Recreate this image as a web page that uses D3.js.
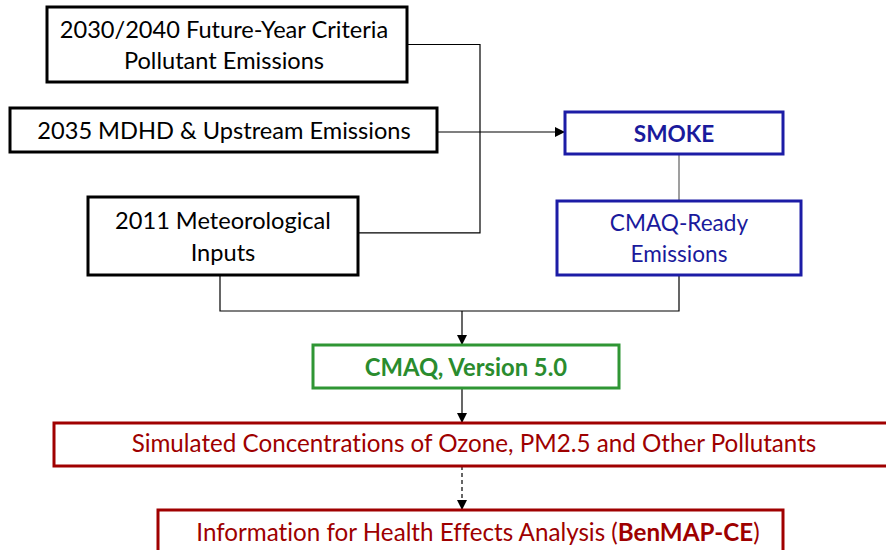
<!DOCTYPE html>
<html>
<head>
<meta charset="utf-8">
<script src="https://cdn.jsdelivr.net/npm/d3@7"></script>
<style>
  body { margin: 0; background: #fff; }
  svg { display: block; font-family: Lato, "Open Sans", sans-serif; font-variant-ligatures: none; }
</style>
</head>
<body>
<div id="chart"></div>
<script>
// node ids and their text (one entry per line)
var nodeIds = ["future", "mdhd", "met", "smoke", "ready", "cmaq", "sim", "health"];
var nodeLines = [
  ["2030/2040 Future-Year Criteria", "Pollutant Emissions"],
  ["2035 MDHD & Upstream Emissions"],
  ["2011 Meteorological", "Inputs"],
  ["SMOKE"],
  ["CMAQ-Ready", "Emissions"],
  ["CMAQ, Version 5.0"],
  ["Simulated Concentrations of Ozone, PM2.5 and Other Pollutants"],
  ["Information for Health Effects Analysis (|BenMAP-CE|)"]   // |..| = bold part
];
var nodeGroups = ["input", "input", "input", "smoke", "smoke", "model", "output", "output"];

// links between nodes (from, to, kind)
var links = [
  ["future", "met", "join"],
  ["mdhd", "smoke", "arrow"],
  ["smoke", "ready", "plain"],
  ["met", "cmaq", "merge"],
  ["ready", "cmaq", "merge"],
  ["cmaq", "sim", "arrow"],
  ["sim", "health", "dashed"]
];

// ---- layout (positions/sizes kept apart from the data) ----
var W = 886, H = 550;
var layout = {
  future: {x: 47,  y: 7,   w: 360, h: 75},
  mdhd:   {x: 10,  y: 108, w: 427, h: 44},
  met:    {x: 88,  y: 197, w: 270, h: 78},
  smoke:  {x: 565, y: 112, w: 218, h: 42},
  ready:  {x: 557, y: 201, w: 244, h: 74},
  cmaq:   {x: 313, y: 345, w: 306, h: 43},
  sim:    {x: 54,  y: 423, w: 840, h: 43},
  health: {x: 158, y: 510, w: 625, h: 60}
};
var textCenter = {future: 224, mdhd: 224, met: 223, smoke: 674, ready: 679, cmaq: 466, sim: 474, health: 478};
var textBase = {future: [38, 69], mdhd: [139], met: [229, 261], smoke: [142], ready: [231, 262],
                cmaq: [376], sim: [452], health: [541]};
var style = {
  input:  {stroke: "#000000", text: "#000000", size: 23.6, bold: false},
  smoke:  {stroke: "#1c1ca6", text: "#1a1a9c", size: 22.6, bold: false},
  model:  {stroke: "#2f9634", text: "#2a8c2e", size: 23.8, bold: true},
  output: {stroke: "#a00000", text: "#9e0000", size: 24.2, bold: false}
};
var joinX = 480, mergeY = 311, trunkX = 462;

var svg = d3.select("#chart").append("svg")
  .attr("width", W).attr("height", H);

var defs = svg.append("defs");
defs.append("marker")
  .attr("id", "head")
  .attr("viewBox", "0 0 10 10")
  .attr("refX", 10).attr("refY", 5)
  .attr("markerWidth", 10).attr("markerHeight", 10)
  .attr("markerUnits", "userSpaceOnUse")
  .attr("orient", "auto")
  .append("path").attr("d", "M0,0 L10,5 L0,10 Z").attr("fill", "#000");

var line = d3.line();
var gLinks = svg.append("g");

links.forEach(function(l) {
  var a = layout[l[0]], b = layout[l[1]], pts, p;
  if (l[2] == "join") {
    pts = [[a.x + a.w, a.y + a.h * 0.5], [joinX, a.y + a.h * 0.5], [joinX, b.y + b.h * 0.46], [b.x + b.w, b.y + b.h * 0.46]];
    gLinks.append("path").attr("d", line(pts)).attr("fill", "none").attr("stroke", "#000").attr("stroke-width", 1.2);
  } else if (l[2] == "arrow" && l[0] == "mdhd") {
    pts = [[a.x + a.w, a.y + a.h / 2 + 2], [b.x, a.y + a.h / 2 + 2]];
    gLinks.append("path").attr("d", line(pts)).attr("stroke", "#000").attr("stroke-width", 1.2).attr("marker-end", "url(#head)");
  } else if (l[2] == "plain") {
    gLinks.append("path").attr("d", line([[679, a.y + a.h], [679, b.y]])).attr("stroke", "#7f7f7f").attr("stroke-width", 1.5);
  } else if (l[2] == "merge") {
    var cx = l[0] == "met" ? 220 : 679;
    pts = [[cx, a.y + a.h], [cx, mergeY], [trunkX, mergeY]];
    gLinks.append("path").attr("d", line(pts)).attr("fill", "none").attr("stroke", "#000").attr("stroke-width", 1.2);
  } else {
    p = gLinks.append("path").attr("d", line([[trunkX, a.y + a.h], [trunkX, b.y]]))
      .attr("stroke", "#000").attr("stroke-width", 1.2).attr("marker-end", "url(#head)");
    if (l[2] == "dashed") p.attr("stroke-dasharray", "4,3");
  }
});
// trunk into CMAQ
gLinks.append("path").attr("d", line([[trunkX, mergeY], [trunkX, layout.cmaq.y]]))
  .attr("stroke", "#000").attr("stroke-width", 1.2).attr("marker-end", "url(#head)");

// boxes
var nodes = nodeIds.map(function(id, i) {
  return {id: id, lines: nodeLines[i], st: style[nodeGroups[i]], box: layout[id]};
});

var gNode = svg.append("g").selectAll("g").data(nodes).join("g");

gNode.append("rect")
  .attr("x", function(d) { return d.box.x; })
  .attr("y", function(d) { return d.box.y; })
  .attr("width", function(d) { return d.box.w; })
  .attr("height", function(d) { return d.box.h; })
  .attr("fill", "#fff")
  .attr("stroke", function(d) { return d.st.stroke; })
  .attr("stroke-width", 3);

gNode.each(function(d) {
  var g = d3.select(this);
  d.lines.forEach(function(txt, k) {
    var t = g.append("text")
      .attr("x", textCenter[d.id])
      .attr("y", textBase[d.id][k])
      .attr("text-anchor", "middle")
      .attr("fill", d.st.text)
      .attr("font-size", d.st.size)
      .attr("font-weight", (d.st.bold || d.id == "smoke") ? "bold" : "normal");
    txt.split("|").forEach(function(part, j) {
      t.append("tspan").attr("font-weight", j == 1 ? "bold" : null).text(part);
    });
  });
});
</script>
</body>
</html>
